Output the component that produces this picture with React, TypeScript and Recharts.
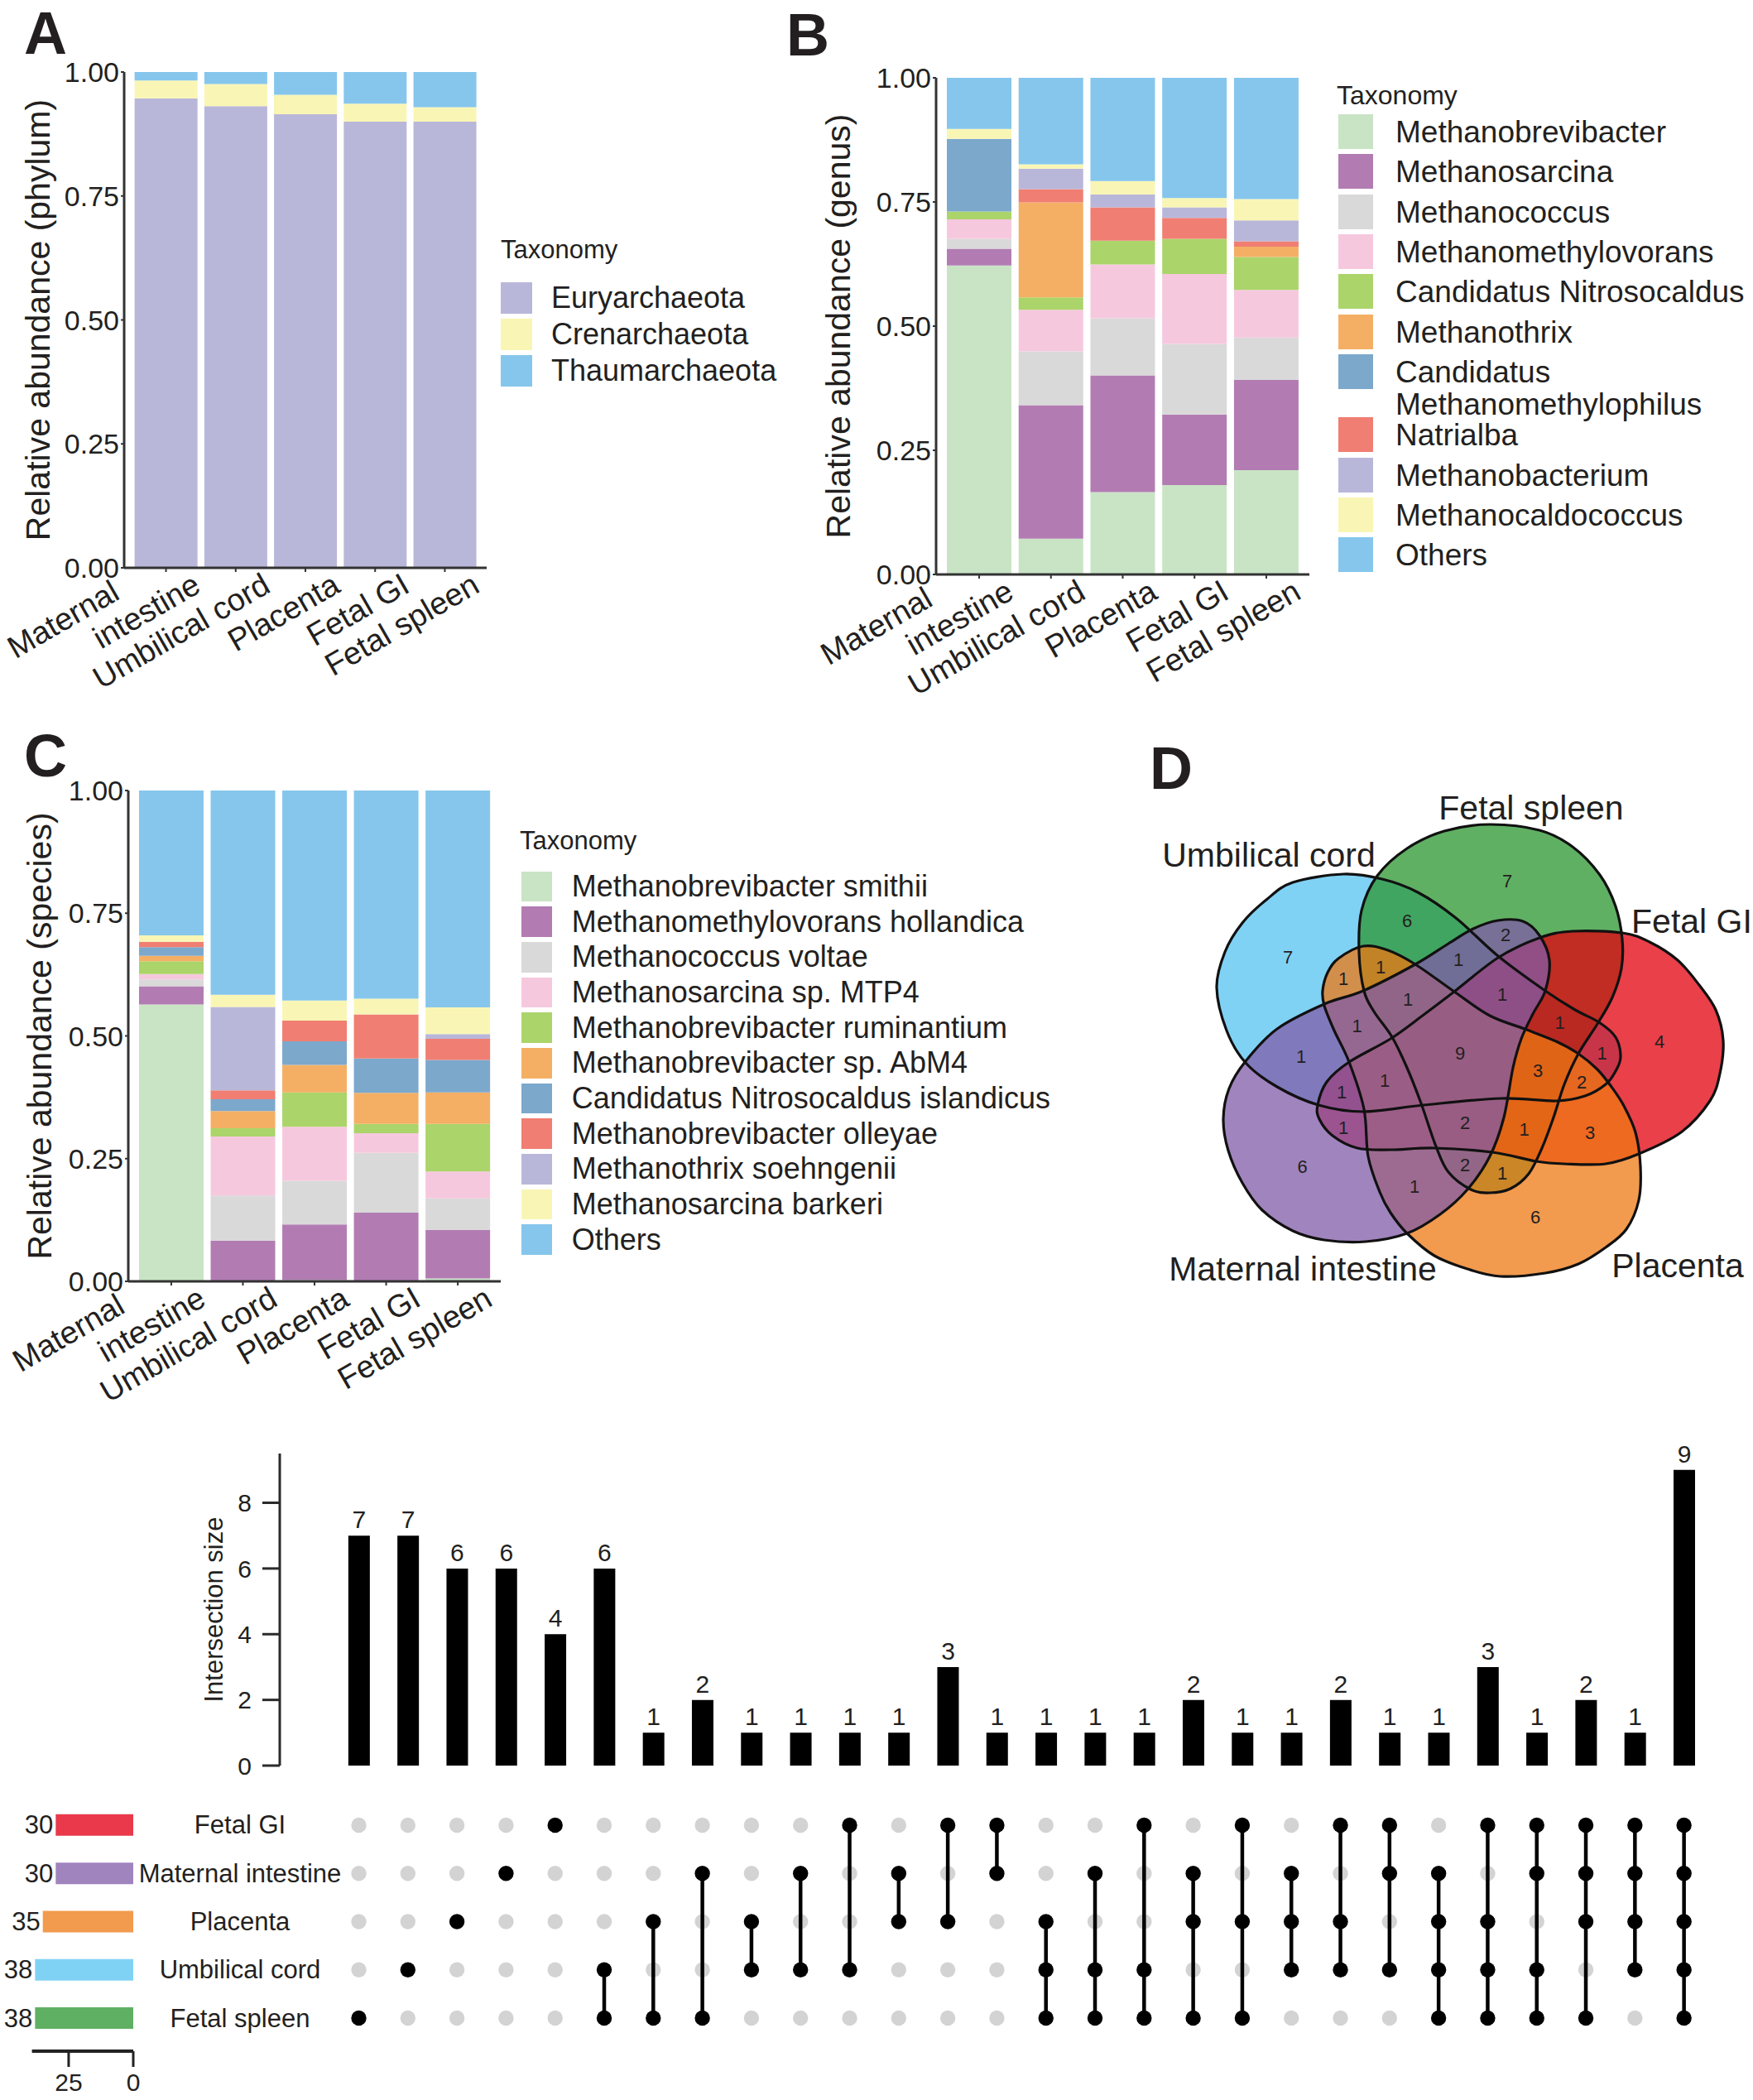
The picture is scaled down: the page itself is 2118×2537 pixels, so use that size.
import {
  Bar,
  BarChart,
  Cell,
  LabelList,
  Legend,
  Scatter,
  ScatterChart,
  XAxis,
  YAxis,
} from "recharts"

const FONT = "'Liberation Sans', Arial, Helvetica, sans-serif"
const INK = "#231f20"
const AXIS = "#333333"

/* ---------- A-C: relative abundance ---------- */
const tissues = ["Maternal\nintestine", "Umbilical cord", "Placenta", "Fetal GI", "Fetal spleen"]

const phylumTaxa = ["Euryarchaeota", "Crenarchaeota", "Thaumarchaeota"]
const phylumColors = ["#B9B7D9", "#F9F6B5", "#86C6EC"]
const euryarchaeota = [0.947, 0.931, 0.915, 0.9, 0.9]
const crenarchaeota = [0.036, 0.045, 0.039, 0.036, 0.029]
const thaumarchaeota = [0.017, 0.024, 0.046, 0.064, 0.071]

const taxaColors = [
  "#C9E4C5", "#B27CB3", "#D9D9D9", "#F6C8DE", "#ABD46A", "#F4AF65",
  "#7CA8CC", "#F07E72", "#B9B7D9", "#F9F6B5", "#86C6EC",
]

const genusTaxa = [
  "Methanobrevibacter", "Methanosarcina", "Methanococcus", "Methanomethylovorans",
  "Candidatus Nitrosocaldus", "Methanothrix", "Candidatus\nMethanomethylophilus",
  "Natrialba", "Methanobacterium", "Methanocaldococcus", "Others",
]
const gMethanobrevibacter = [0.622, 0.072, 0.166, 0.18, 0.21]
const gMethanosarcina = [0.034, 0.269, 0.235, 0.142, 0.182]
const gMethanococcus = [0.02, 0.108, 0.115, 0.142, 0.085]
const gMethanomethylovorans = [0.039, 0.084, 0.108, 0.141, 0.096]
const gNitrosocaldus = [0.016, 0.025, 0.048, 0.071, 0.066]
const gMethanothrix = [0, 0.191, 0, 0, 0.021]
const gMethanomethylophilus = [0.146, 0, 0, 0, 0]
const gNatrialba = [0, 0.027, 0.067, 0.042, 0.011]
const gMethanobacterium = [0, 0.041, 0.026, 0.021, 0.042]
const gMethanocaldococcus = [0.02, 0.009, 0.027, 0.019, 0.043]
const gOthers = [0.103, 0.174, 0.208, 0.242, 0.244]

const speciesTaxa = [
  "Methanobrevibacter smithii", "Methanomethylovorans hollandica", "Methanococcus voltae",
  "Methanosarcina sp. MTP4", "Methanobrevibacter ruminantium", "Methanobrevibacter sp. AbM4",
  "Candidatus Nitrosocaldus islandicus", "Methanobrevibacter olleyae", "Methanothrix soehngenii",
  "Methanosarcina barkeri", "Others",
]
const sSmithii = [0.564, 0, 0.003, 0, 0.006]
const sHollandica = [0.037, 0.083, 0.113, 0.14, 0.099]
const sVoltae = [0.014, 0.092, 0.089, 0.122, 0.064]
const sMTP4 = [0.011, 0.12, 0.11, 0.04, 0.055]
const sRuminantium = [0.026, 0.017, 0.07, 0.019, 0.097]
const sAbM4 = [0.011, 0.035, 0.056, 0.063, 0.064]
const sIslandicus = [0.018, 0.024, 0.048, 0.07, 0.066]
const sOlleyae = [0.011, 0.018, 0.042, 0.09, 0.043]
const sSoehngenii = [0, 0.17, 0, 0, 0.01]
const sBarkeri = [0.013, 0.025, 0.041, 0.032, 0.054]
const sOthers = [0.295, 0.416, 0.428, 0.424, 0.442]

/* ---------- D-E: shared archaea across sites ---------- */
const setNames = ["Fetal GI", "Maternal intestine", "Placenta", "Umbilical cord", "Fetal spleen"]
const setSizes = [30, 30, 35, 38, 38]
const setColors = ["#E9394B", "#A084BE", "#F29A4E", "#80D2F5", "#60B063"]

// members of each intersection, as indexes into setNames
const intersectionSets = [
  [4], [3], [2], [1], [0], [3, 4], [2, 4], [1, 4], [2, 3], [1, 3], [0, 3], [1, 2], [0, 2], [0, 1],
  [2, 3, 4], [1, 3, 4], [0, 3, 4], [1, 2, 4], [0, 2, 4], [1, 2, 3], [0, 2, 3], [0, 1, 3],
  [1, 2, 3, 4], [0, 2, 3, 4], [0, 1, 3, 4], [0, 1, 2, 4], [0, 1, 2, 3], [0, 1, 2, 3, 4],
]
const intersectionSizes = [7, 7, 6, 6, 4, 6, 1, 2, 1, 1, 1, 1, 3, 1, 1, 1, 1, 2, 1, 1, 2, 1, 1, 3, 1, 2, 1, 9]

/* ---------- layout ---------- */
type Box = { left: number; top: number; width: number; height: number }
type Plot = { left: number; top: number; right: number; bottom: number }
type LegendSpec = {
  title: [number, number]
  titleSize: number
  swatch: [number, number, number]
  labelX: number
  first: number
  step: number
  extra: number
  size: number
  gap: number
}

// Venn frame: 1 unit = 100 px, origin at the diagram centre
const VENN = { left: 1380, top: 880, width: 738, height: 700, x: [-3.8, 3.58], y: [-3.9, 3.1] }
const VENN_PX = VENN.width / (VENN.x[1] - VENN.x[0])
const vennFill = ["#E2000E", "#805BA8", "#EE7813", "#56C3F2", "#2B962F"]
const vennDrawOrder = [3, 4, 0, 2, 1]
// closed outline of each set's shape, in Venn units
const vennOutlines = [
  [[1.4,-1.45],[2.0,-1.43],[2.33,-1.32],[2.67,-1.1],[2.93,-0.8],[3.13,-0.5],[3.22,-0.13],[3.18,0.27],[3.06,0.6],[2.71,0.98],[2.2,1.24],[1.8,1.36],[1.3,1.36],[0.96,1.33],[0.43,1.22],[-0.27,1.17],[-0.8,1.19],[-1.2,1.17],[-1.5,1.02],[-1.66,0.82],[-1.68,0.65],[-1.57,0.37],[-1.3,0.13],[-0.8,-0.15],[-0.4,-0.44],[-0.03,-0.72],[0.5,-1.13],[1.0,-1.37]],
  [[0.5,-1.58],[0.8,-1.57],[1.0,-1.4],[1.12,-1.1],[1.07,-0.73],[0.92,-0.45],[0.78,-0.15],[0.68,0.2],[0.57,0.8],[0.4,1.27],[0.13,1.67],[-0.2,1.97],[-0.6,2.2],[-1.1,2.3],[-1.6,2.28],[-1.98,2.17],[-2.35,1.92],[-2.59,1.59],[-2.76,1.2],[-2.82,0.82],[-2.75,0.45],[-2.55,0.12],[-2.17,-0.27],[-1.6,-0.57],[-1.13,-0.73],[-0.5,-1.05],[-0.1,-1.3],[0.2,-1.48]],
  [[-1.62,-0.73],[-1.56,-0.95],[-1.43,-1.12],[-1.13,-1.27],[-0.83,-1.22],[-0.5,-1.05],[-0.03,-0.72],[0.4,-0.43],[0.82,-0.27],[1.2,-0.12],[1.47,0.03],[1.7,0.22],[1.87,0.43],[2.02,0.66],[2.16,0.98],[2.22,1.39],[2.2,1.8],[2.05,2.15],[1.8,2.37],[1.47,2.57],[1.07,2.68],[0.53,2.72],[0.13,2.63],[-0.27,2.47],[-0.6,2.2],[-0.8,1.95],[-0.93,1.7],[-1.07,1.27],[-1.12,0.7],[-1.3,0.13],[-1.48,-0.25],[-1.6,-0.55]],
  [[-2.9,-0.77],[-2.8,-1.2],[-2.59,-1.55],[-2.3,-1.83],[-1.98,-2.04],[-1.37,-2.14],[-0.9,-2.08],[-0.47,-1.92],[-0.01,-1.61],[0.5,-1.15],[1.07,-0.73],[1.43,-0.5],[1.72,-0.35],[1.92,-0.17],[1.98,0.07],[1.92,0.24],[1.8,0.4],[1.55,0.54],[1.2,0.6],[0.53,0.57],[-0.4,0.65],[-1.13,0.73],[-1.67,0.65],[-2.17,0.43],[-2.55,0.14],[-2.78,-0.25]],
  [[0.39,-2.74],[1.0,-2.67],[1.4,-2.47],[1.73,-2.13],[1.92,-1.75],[2.0,-1.35],[1.99,-1.0],[1.88,-0.65],[1.7,-0.33],[1.47,0.03],[1.3,0.4],[1.17,0.8],[1.03,1.17],[0.87,1.48],[0.65,1.66],[0.4,1.71],[0.17,1.67],[-0.1,1.46],[-0.25,1.15],[-0.43,0.63],[-0.6,0.2],[-0.78,-0.17],[-1.0,-0.48],[-1.12,-0.73],[-1.18,-1.2],[-1.15,-1.7],[-0.96,-2.12],[-0.6,-2.45],[-0.15,-2.66]],
]
const vennNamePos = [[2.84, -1.57], [-1.86, 2.63], [2.67, 2.59], [-2.27, -2.37], [0.9, -2.94]]
const vennCountPos = [
  [0.61, -2.06], [-2.04, -1.14], [0.95, 2.0], [-1.865, 1.39], [2.45, -0.12],
  [-0.6, -1.58], [0.55, 1.47], [0.59, -1.41], [-1.37, -0.88], [-1.88, 0.06],
  [1.755, 0.02], [-0.51, 1.635], [1.61, 0.98], [-1.37, 0.92], [-0.92, -1.02],
  [0.02, -1.11], [1.245, -0.345], [0.1, 1.37], [0.816, 0.94], [-1.204, -0.304],
  [1.51, 0.37], [-1.39, 0.49], [-0.59, -0.63], [0.98, 0.23], [0.55, -0.69],
  [0.1, 0.86], [-0.87, 0.35], [0.04, 0.02],
]

const COL_DOMAIN: [number, number] = [-1.6105, 27.5]

/* ---------- shared bits ---------- */
const YTitle = (props: any) => {
  const { viewBox, value, dx, size = 41 } = props
  const cx = viewBox.x + dx
  const cy = viewBox.y + viewBox.height / 2
  return (
    <text x={cx} y={cy} transform={`rotate(-90 ${cx} ${cy})`} textAnchor="middle" dominantBaseline="central" fontSize={size} fill={INK} fontFamily={FONT}>
      {value}
    </text>
  )
}

const TissueTick = (props: any) => {
  const { x, y, payload } = props
  const lines = String(payload.value).split("\n")
  return (
    <g transform={`translate(${x + 44},${y + 21}) rotate(-30)`}>
      {lines.map((line, i) => {
        const k = lines.length - 1 - i
        return (
          <text key={i} x={-89 * k} y={-41.6 * k} textAnchor="end" fontSize={38} fill={INK} fontFamily={FONT}>
            {line}
          </text>
        )
      })}
    </g>
  )
}

function TaxLegend({ taxa, colors, spec, origin }: { taxa: string[]; colors: string[]; spec: LegendSpec; origin: Box }) {
  const centres: number[] = []
  taxa.reduce((c, t) => {
    centres.push(c)
    return c + spec.step + (t.split("\n").length - 1) * spec.extra
  }, spec.first)
  const text = { position: "absolute" as const, lineHeight: 1, whiteSpace: "nowrap" as const, transform: "translateY(-50%)" }
  return (
    <div style={{ position: "relative", fontFamily: FONT, color: INK }}>
      <div style={{ ...text, left: spec.title[0] - origin.left, top: spec.title[1] - origin.top, fontSize: spec.titleSize }}>Taxonomy</div>
      {taxa.map((t, i) => (
        <div key={t}>
          <div
            style={{
              position: "absolute",
              left: spec.swatch[0] - origin.left,
              top: centres[i] - spec.swatch[2] / 2 - origin.top,
              width: spec.swatch[1],
              height: spec.swatch[2],
              background: colors[i],
            }}
          />
          {t.split("\n").map((line, j) => (
            <div key={j} style={{ ...text, left: spec.labelX - origin.left, top: centres[i] + j * spec.gap - origin.top, fontSize: spec.size }}>
              {line}
            </div>
          ))}
        </div>
      ))}
    </div>
  )
}

function StackPanel({
  box, plot, taxa, colors, series, yTitle, titleDx, legend,
}: {
  box: Box
  plot: Plot
  taxa: string[]
  colors: string[]
  series: number[][]
  yTitle: string
  titleDx: number
  legend: LegendSpec
}) {
  const data = tissues.map((tissue, i) => {
    const row: Record<string, string | number> = { tissue }
    taxa.forEach((k, j) => {
      row[k] = series[j][i]
    })
    return row
  })
  const pad = (plot.right - plot.left) / 52
  const frame = { stroke: AXIS, strokeWidth: 2.2 }
  return (
    <div style={{ position: "absolute", left: box.left, top: box.top }}>
      <BarChart
        width={box.width}
        height={box.height}
        data={data}
        barCategoryGap="5%"
        margin={{ top: plot.top - box.top, right: box.left + box.width - plot.right, bottom: 0, left: 0 }}
      >
        <XAxis
          xAxisId="b"
          dataKey="tissue"
          height={box.top + box.height - plot.bottom}
          padding={{ left: pad, right: pad }}
          interval={0}
          tickSize={5}
          tickMargin={2}
          axisLine={{ stroke: AXIS, strokeWidth: 3 }}
          tickLine={{ stroke: AXIS, strokeWidth: 2 }}
          tick={<TissueTick />}
        />
        <XAxis xAxisId="t" dataKey="tissue" orientation="top" height={0} tick={false} tickLine={false} axisLine={frame} />
        <YAxis
          yAxisId="l"
          type="number"
          domain={[0, 1]}
          allowDataOverflow
          ticks={[0, 0.25, 0.5, 0.75, 1]}
          tickFormatter={(v: number) => v.toFixed(2)}
          width={plot.left - box.left}
          tickSize={4}
          tickMargin={2}
          axisLine={{ stroke: AXIS, strokeWidth: 3 }}
          tickLine={{ stroke: AXIS, strokeWidth: 2 }}
          tick={{ fontSize: 34, fill: INK, fontFamily: FONT }}
          label={<YTitle value={yTitle} dx={titleDx} />}
        />
        <YAxis yAxisId="r" orientation="right" type="number" domain={[0, 1]} width={0} tick={false} tickLine={false} axisLine={frame} />
        {taxa.map((k, j) => (
          <Bar key={k} xAxisId="b" yAxisId="l" dataKey={k} stackId="s" fill={colors[j]} isAnimationActive={false} />
        ))}
        <Legend
          layout="horizontal"
          verticalAlign="middle"
          align="center"
          wrapperStyle={{ left: 0, top: 0, width: box.width, height: box.height, pointerEvents: "none" }}
          content={() => <TaxLegend taxa={taxa} colors={colors} spec={legend} origin={box} />}
        />
      </BarChart>
    </div>
  )
}

/* ---------- D: Venn ---------- */
function closedSpline(pts: number[][]) {
  const n = pts.length
  let d = `M${pts[0][0]},${pts[0][1]}`
  for (let i = 0; i < n; i++) {
    const p0 = pts[(i - 1 + n) % n]
    const p1 = pts[i]
    const p2 = pts[(i + 1) % n]
    const p3 = pts[(i + 2) % n]
    const c1 = [p1[0] + (p2[0] - p0[0]) / 6, p1[1] + (p2[1] - p0[1]) / 6]
    const c2 = [p2[0] - (p3[0] - p1[0]) / 6, p2[1] - (p3[1] - p1[1]) / 6]
    d += `C${c1[0]},${c1[1]} ${c2[0]},${c2[1]} ${p2[0]},${p2[1]}`
  }
  return d + "Z"
}

// the anchor point of each shape is its first outline vertex
const shapePath = (p: any) =>
  closedSpline(
    p.payload.outline.map(([u, v]: number[]) => [p.cx + (u - p.payload.x) * VENN_PX, p.cy + (v - p.payload.y) * VENN_PX]),
  )
const SetFill = (p: any) => <path d={shapePath(p)} fill={p.payload.color} fillOpacity={0.75} stroke="none" />
const SetLine = (p: any) => <path d={shapePath(p)} fill="none" stroke="#111" strokeWidth={3.2} strokeLinejoin="round" />
const CountText = (p: any) => (
  <text x={p.cx} y={p.cy} textAnchor="middle" dominantBaseline="central" fontSize={22} fill={INK} fontFamily={FONT}>
    {p.payload.n}
  </text>
)
const NameText = (p: any) => (
  <text x={p.cx} y={p.cy} textAnchor="middle" dominantBaseline="central" fontSize={41} fill={INK} fontFamily={FONT}>
    {p.payload.name}
  </text>
)

function VennPanel() {
  const shapes = vennDrawOrder.map((k) => ({
    x: vennOutlines[k][0][0],
    y: vennOutlines[k][0][1],
    outline: vennOutlines[k],
    color: vennFill[k],
  }))
  const counts = intersectionSizes.map((n, i) => ({ x: vennCountPos[i][0], y: vennCountPos[i][1], n }))
  const names = setNames.map((name, k) => ({ x: vennNamePos[k][0], y: vennNamePos[k][1], name }))
  return (
    <div style={{ position: "absolute", left: VENN.left, top: VENN.top }}>
      <ScatterChart width={VENN.width} height={VENN.height} margin={{ top: 0, right: 0, bottom: 0, left: 0 }}>
        <XAxis type="number" dataKey="x" domain={VENN.x} allowDataOverflow hide />
        <YAxis type="number" dataKey="y" domain={VENN.y} allowDataOverflow reversed hide />
        <Scatter data={shapes} shape={SetFill} isAnimationActive={false} />
        <Scatter data={shapes} shape={SetLine} isAnimationActive={false} />
        <Scatter data={counts} shape={CountText} isAnimationActive={false} />
        <Scatter data={names} shape={NameText} isAnimationActive={false} />
      </ScatterChart>
    </div>
  )
}

/* ---------- E: UpSet ---------- */
function UpsetBars() {
  const data = intersectionSizes.map((size, col) => ({ col, size }))
  return (
    <div style={{ position: "absolute", left: 0, top: 1700 }}>
      <BarChart width={2118} height={450} data={data} margin={{ top: 56, right: 53.7, bottom: 17, left: 0 }}>
        <XAxis type="number" dataKey="col" domain={COL_DOMAIN} allowDataOverflow hide />
        <YAxis
          type="number"
          domain={[0, 9.5]}
          allowDataOverflow
          ticks={[0, 2, 4, 6, 8]}
          width={338}
          tickSize={21}
          tickMargin={13}
          axisLine={{ stroke: "#2b2b2b", strokeWidth: 3 }}
          tickLine={{ stroke: "#2b2b2b", strokeWidth: 3 }}
          tick={{ fontSize: 30, fill: INK, fontFamily: FONT }}
          label={<YTitle value="Intersection size" dx={258} size={31} />}
        />
        <Bar dataKey="size" fill="#000" barSize={26} isAnimationActive={false}>
          <LabelList dataKey="size" position="top" offset={9} fontSize={30} fill={INK} fontFamily={FONT} />
        </Bar>
      </BarChart>
    </div>
  )
}

const SetNameTick = (props: any) => (
  <text x={290} y={props.y} textAnchor="middle" dominantBaseline="central" fontSize={31} fill={INK} fontFamily={FONT}>
    {setNames[props.payload.value]}
  </text>
)
const dotShape = (fill: string) => (p: any) => <circle cx={p.cx} cy={p.cy} r={9.2} fill={fill} />

function UpsetMatrix() {
  const dots = intersectionSets.flatMap((members, col) => setNames.map((_, row) => ({ col, row, on: members.includes(row) })))
  return (
    <div style={{ position: "absolute", left: 0, top: 2150 }}>
      <ScatterChart width={2118} height={330} margin={{ top: 25.85, right: 53.7, bottom: 12.85, left: 0 }}>
        <XAxis type="number" dataKey="col" domain={COL_DOMAIN} allowDataOverflow hide />
        <YAxis
          type="number"
          dataKey="row"
          domain={[-0.5, 4.5]}
          allowDataOverflow
          reversed
          ticks={[0, 1, 2, 3, 4]}
          interval={0}
          width={338}
          axisLine={false}
          tickLine={false}
          tick={<SetNameTick />}
        />
        <Scatter data={dots.filter((d) => !d.on)} shape={dotShape("#D3D3D3")} isAnimationActive={false} />
        {intersectionSets.map((members, col) =>
          members.length > 1 ? (
            <Scatter
              key={col}
              data={[
                { col, row: Math.min(...members) },
                { col, row: Math.max(...members) },
              ]}
              line={{ stroke: "#000", strokeWidth: 4.5 }}
              shape={() => <g />}
              isAnimationActive={false}
            />
          ) : null,
        )}
        <Scatter data={dots.filter((d) => d.on)} shape={dotShape("#000")} isAnimationActive={false} />
      </ScatterChart>
    </div>
  )
}

const SizeLabel = (p: any) => (
  <text x={Math.min(p.x, p.x + p.width) - 3} y={p.y + p.height / 2} textAnchor="end" dominantBaseline="central" fontSize={31} fill={INK} fontFamily={FONT}>
    {p.value}
  </text>
)

function SetSizes() {
  const data = setNames.map((name, row) => ({ row, name, size: setSizes[row] }))
  return (
    <div style={{ position: "absolute", left: 0, top: 2150 }}>
      <BarChart layout="vertical" width={420} height={387} data={data} margin={{ top: 25.85, right: 259, bottom: 0, left: 38.6 }}>
        <XAxis
          type="number"
          domain={[0, 39.2]}
          allowDataOverflow
          reversed
          ticks={[0, 25]}
          height={59}
          tickSize={19}
          tickMargin={8}
          axisLine={{ stroke: "#222", strokeWidth: 4 }}
          tickLine={{ stroke: "#222", strokeWidth: 3 }}
          tick={{ fontSize: 30, fill: INK, fontFamily: FONT }}
        />
        <YAxis type="number" dataKey="row" domain={[-0.5, 4.6827]} allowDataOverflow hide />
        <Bar dataKey="size" barSize={26} isAnimationActive={false}>
          {data.map((d) => (
            <Cell key={d.row} fill={setColors[d.row]} />
          ))}
          <LabelList dataKey="size" content={SizeLabel} />
        </Bar>
      </BarChart>
    </div>
  )
}

const panelLetters: [string, number, number][] = [
  ["A", 29, 65],
  ["B", 950, 67],
  ["C", 29, 938],
  ["D", 1389, 953],
]

export default function App() {
  return (
    <div style={{ position: "absolute", left: 0, top: 0, width: 2118, height: 2537, background: "#fff", overflow: "hidden", fontFamily: FONT }}>
      <svg width={2118} height={2537} style={{ position: "absolute", left: 0, top: 0 }}>
        {panelLetters.map(([t, x, y]) => (
          <text key={t} x={x} y={y} fontSize={72} fontWeight="bold" fill={INK} fontFamily={FONT}>
            {t}
          </text>
        ))}
      </svg>

      <StackPanel
        box={{ left: 0, top: 0, width: 1000, height: 860 }}
        plot={{ left: 150, top: 87, right: 588, bottom: 686 }}
        taxa={phylumTaxa}
        colors={phylumColors}
        series={[euryarchaeota, crenarchaeota, thaumarchaeota]}
        yTitle="Relative abundance (phylum)"
        titleDx={46}
        legend={{ title: [605, 301], titleSize: 31, swatch: [605, 38, 38], labelX: 666, first: 360, step: 44.2, extra: 0, size: 36, gap: 40 }}
      />

      <StackPanel
        box={{ left: 950, top: 0, width: 1168, height: 880 }}
        plot={{ left: 1131, top: 94, right: 1582, bottom: 694 }}
        taxa={genusTaxa}
        colors={taxaColors}
        series={[
          gMethanobrevibacter, gMethanosarcina, gMethanococcus, gMethanomethylovorans, gNitrosocaldus,
          gMethanothrix, gMethanomethylophilus, gNatrialba, gMethanobacterium, gMethanocaldococcus, gOthers,
        ]}
        yTitle="Relative abundance (genus)"
        titleDx={63}
        legend={{ title: [1615, 115], titleSize: 32, swatch: [1617, 42, 42], labelX: 1686, first: 158.8, step: 48.4, extra: 27.5, size: 37, gap: 38.5 }}
      />

      <StackPanel
        box={{ left: 0, top: 870, width: 1400, height: 840 }}
        plot={{ left: 155, top: 955, right: 605, bottom: 1548 }}
        taxa={speciesTaxa}
        colors={taxaColors}
        series={[sSmithii, sHollandica, sVoltae, sMTP4, sRuminantium, sAbM4, sIslandicus, sOlleyae, sSoehngenii, sBarkeri, sOthers]}
        yTitle="Relative abundance (species)"
        titleDx={48}
        legend={{ title: [628, 1015], titleSize: 31, swatch: [629.5, 37, 36.6], labelX: 690.7, first: 1071, step: 42.66, extra: 0, size: 36, gap: 40 }}
      />

      <VennPanel />
      <UpsetBars />
      <UpsetMatrix />
      <SetSizes />
    </div>
  )
}
